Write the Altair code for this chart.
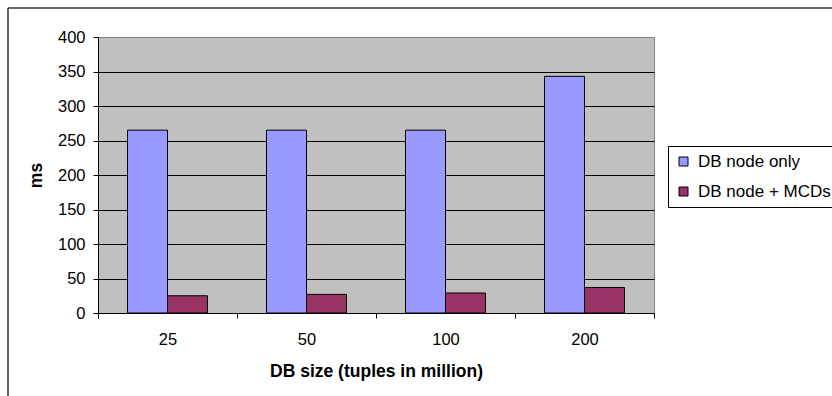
import altair as alt
import pandas as pd

# Query latency by database size, with and without the MCD cache tier
db_sizes = ["25", "50", "100", "200"]
db_node_only = [265, 265, 265, 343]
db_node_mcds = [25, 27, 29, 37]
series_names = ["DB node only", "DB node + MCDs"]
series_colors = ["#9999FF", "#993366"]
y_ticks = [0, 50, 100, 150, 200, 250, 300, 350, 400]

rows = []
for size, a, b in zip(db_sizes, db_node_only, db_node_mcds):
    rows.append({"size": size, "series": series_names[0], "ms": a})
    rows.append({"size": size, "series": series_names[1], "ms": b})
df = pd.DataFrame(rows)

FONT = "Liberation Sans"

bars = alt.Chart(df).mark_bar(stroke="black", strokeWidth=1).encode(
    x=alt.X(
        "size:N",
        sort=db_sizes,
        scale=alt.Scale(paddingInner=0, paddingOuter=0),
        axis=alt.Axis(
            title="DB size (tuples in million)",
            labelAngle=0,
            tickBand="extent",
            tickSize=5,
            tickColor="black",
            domainColor="black",
            labelPadding=13,
            titlePadding=15,
            grid=False,
        ),
    ),
    xOffset=alt.XOffset(
        "series:N",
        sort=series_names,
        scale=alt.Scale(paddingInner=0, paddingOuter=0.7375),
    ),
    y=alt.Y(
        "ms:Q",
        scale=alt.Scale(domain=[0, 400], nice=False),
        axis=alt.Axis(
            title="ms",
            values=y_ticks,
            tickSize=5,
            tickColor="black",
            domainColor="black",
            labelPadding=8,
            titlePadding=12,
            grid=True,
            gridColor=alt.condition(
                alt.datum.value == 400, alt.value("#808080"), alt.value("black")
            ),
            gridOpacity=1,
        ),
    ),
    color=alt.Color(
        "series:N",
        sort=series_names,
        scale=alt.Scale(domain=series_names, range=series_colors),
        legend=alt.Legend(
            title=None,
            orient="none",
            legendX=570,
            legendY=109,
            symbolType="square",
            symbolSize=81,
            symbolStrokeColor="black",
            symbolStrokeWidth=1,
            symbolOpacity=1,
            labelFontSize=17,
            labelFont=FONT,
            labelColor="black",
            labelOffset=6,
            rowPadding=12,
            padding=7,
            strokeColor="black",
            fillColor="white",
        ),
    ),
)

# Outer chart frame (left and top edges)
frame_left = alt.Chart(alt.Data(values=[{}])).mark_rule(
    color="#333333", strokeWidth=1.5
).encode(x=alt.value(-90), y=alt.value(-29), y2=alt.value(400))
frame_top = alt.Chart(alt.Data(values=[{}])).mark_rule(
    color="#333333", strokeWidth=1.5
).encode(x=alt.value(-90), x2=alt.value(800), y=alt.value(-29))

chart = (
    alt.layer(bars, frame_left, frame_top)
    .properties(
        width=556,
        height=276,
        autosize=alt.AutoSizeParams(type="none"),
        padding={"left": 98, "top": 37, "right": 178, "bottom": 83},
        background="white",
    )
    .configure_view(fill="#C0C0C0", stroke="#808080", strokeWidth=1)
    .configure_axis(
        labelFont=FONT,
        labelFontSize=16.5,
        labelColor="black",
        titleFont=FONT,
        titleFontSize=17.5,
        titleFontWeight="bold",
        titleColor="black",
    )
)

chart.save("out.html", embed_options={"renderer": "svg", "actions": False})
